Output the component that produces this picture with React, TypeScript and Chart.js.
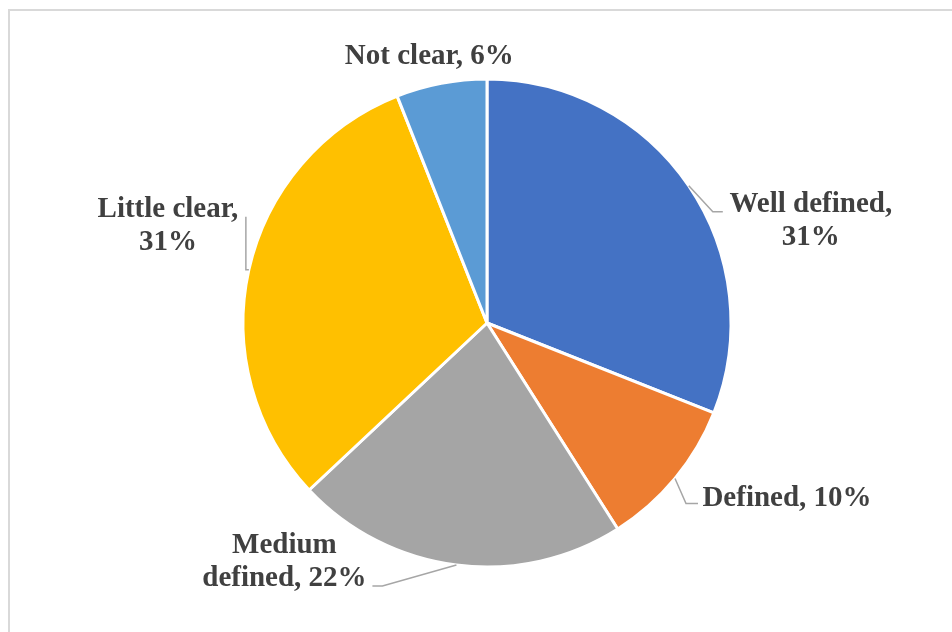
import React, { useEffect, useRef } from "react";
import { Chart, registerables } from "chart.js";

Chart.register(...registerables);

const categories = ["Well defined", "Defined", "Medium defined", "Little clear", "Not clear"];
const values = [31, 10, 22, 31, 6];
const colors = ["#4472C4", "#ED7D31", "#A5A5A5", "#FFC000", "#5B9BD5"];
// number of words on the first label line (0 = single line)
const wrapAt = [2, 0, 1, 2, 0];
// text block position relative to slice edge point: [centerX offset, first baseline offset]
const textOffsets = [
  [122, 26],
  [112, 27],
  [-172, -12],
  [-81, -53],
  [-12, -19],
];
// leader line points relative to slice edge point
const leaderOffsets = [
  [[24, 26], [34, 26]],
  [[11, 25], [23, 25]],
  [[-74, 21], [-84, 21]],
  [[-3, 0], [-3, -53]],
  [],
];

function labelLines(i: number): string[] {
  const words = `${categories[i]}, ${values[i]}%`.split(" ");
  const n = wrapAt[i];
  if (!n) return [words.join(" ")];
  return [words.slice(0, n).join(" "), words.slice(n).join(" ")];
}

const labelPlugin = {
  id: "excelLabels",
  beforeDraw(chart: any) {
    const ctx = chart.ctx;
    ctx.save();
    ctx.fillStyle = "#d9d9d9";
    ctx.fillRect(0, 1, chart.width, 2);
    ctx.fillRect(0, 1, 2, chart.height);
    ctx.restore();
  },
  afterDatasetsDraw(chart: any) {
    const ctx = chart.ctx;
    const meta = chart.getDatasetMeta(0);
    ctx.save();
    meta.data.forEach((arc: any, i: number) => {
      const p = arc.getProps(["x", "y", "startAngle", "endAngle", "outerRadius"], true);
      const mid = (p.startAngle + p.endAngle) / 2;
      const ex = p.x + Math.cos(mid) * p.outerRadius;
      const ey = p.y + Math.sin(mid) * p.outerRadius;
      const pts = leaderOffsets[i];
      if (pts.length) {
        ctx.beginPath();
        ctx.strokeStyle = "#a6a6a6";
        ctx.lineWidth = 1.5;
        ctx.moveTo(ex, ey);
        pts.forEach(([dx, dy]) => ctx.lineTo(ex + dx, ey + dy));
        ctx.stroke();
      }
      const lines = labelLines(i);
      ctx.fillStyle = "#404040";
      ctx.font = 'bold 29px "Liberation Serif", "Times New Roman", serif';
      ctx.textAlign = "center";
      ctx.textBaseline = "alphabetic";
      const [tx, ty] = textOffsets[i];
      lines.forEach((ln, k) => {
        ctx.fillText(ln, ex + tx, ey + ty + k * 33);
      });
    });
    ctx.restore();
  },
};

export default function App() {
  const ref = useRef<HTMLCanvasElement | null>(null);
  useEffect(() => {
    if (!ref.current) return;
    const chart = new Chart(ref.current, {
      type: "pie",
      data: {
        labels: categories,
        datasets: [
          {
            data: values,
            backgroundColor: colors,
            borderColor: "#ffffff",
            borderWidth: 3,
            hoverOffset: 0,
          },
        ],
      },
      options: {
        animation: false,
        responsive: false,
        events: [],
        radius: 244,
        layout: { padding: { left: 22, right: 8, top: 12, bottom: 6 } },
        plugins: {
          legend: { display: false },
          tooltip: { enabled: false },
        },
      } as any,
      plugins: [labelPlugin],
    });
    return () => chart.destroy();
  }, []);
  return (
    <div style={{ position: "absolute", left: 8, top: 8, width: 944, height: 624 }}>
      <canvas ref={ref} width={944} height={624} style={{ display: "block" }} />
    </div>
  );
}
